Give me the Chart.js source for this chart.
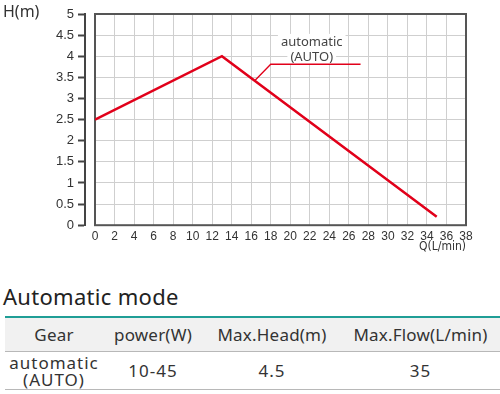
<!DOCTYPE html>
<html>
<head>
<meta charset="utf-8">
<script src="https://cdn.jsdelivr.net/npm/chart.js@4.4.1/dist/chart.umd.min.js"></script>
<style>
  body { margin: 0; background: #fff; width: 500px; height: 394px; overflow: hidden; position: relative; font-family: "Noto Sans", sans-serif; }
  #wrap { position: absolute; left: 0; top: 0; width: 500px; height: 254px; }
  #hlabel { position: absolute; left: 3px; top: 0px; font-size: 16px; color: #333; }
  #title { position: absolute; left: 3px; top: 281px; font-size: 22px; color: #222; letter-spacing: 0.3px; }
  table { position: absolute; left: 5px; top: 316px; width: 495px; border-collapse: collapse; border-top: 2px solid #1f9e96; color: #333; font-size: 17px; }
  th { background: #f1f1f1; font-weight: normal; height: 33px; border-bottom: 1px solid #b8b8b8; padding: 0; letter-spacing: 0.2px; }
  td { text-align: center; height: 37px; border-bottom: 1px solid #b8b8b8; padding: 0; line-height: 17px; letter-spacing: 1px; }
</style>
</head>
<body>
<div id="wrap"><canvas id="myChart"></canvas></div>
<div id="hlabel">H(m)</div>
<div id="title">Automatic mode</div>
<table>
  <tr><th style="width:98px">Gear</th><th style="width:100px">power(W)</th><th style="width:138px">Max.Head(m)</th><th>Max.Flow(L/min)</th></tr>
  <tr><td>automatic<br>(AUTO)</td><td>10-45</td><td>4.5</td><td>35</td></tr>
</table>
<script>
// curve data
var flow = [0, 13, 35]
var head = [2.5, 4.0, 0.2]

// leader line for the label
var leaderQ = [16.4, 18, 27.2]
var leaderH = [3.43, 3.81, 3.81]
var labelQ = 22.2
var labelLines = ["automatic", "(AUTO)"]
var labelH = [4.34, 3.98]

var xMin = 0, xMax = 38, xStep = 2
var yMin = 0, yMax = 5, yStep = 0.5

function pts(xs, ys){
    var out = []
    for (var i = 0; i < xs.length; i++) out.push({x: xs[i], y: ys[i]})
    return out
}

var framePlugin = {
    id: 'frame',
    beforeDatasetsDraw: function(chart){
        var c = chart.ctx, a = chart.chartArea
        c.save()
        c.strokeStyle = '#555'
        c.lineWidth = 2
        c.strokeRect(a.left, a.top, a.right - a.left, a.bottom - a.top)

        // label with white box
        var xs = chart.scales.x, ys = chart.scales.y
        c.font = '13px "Noto Sans"'
        c.textAlign = 'center'
        c.textBaseline = 'middle'
        var cx = xs.getPixelForValue(labelQ)
        for (var i = 0; i < labelLines.length; i++){
            var cy = ys.getPixelForValue(labelH[i])
            var w = c.measureText(labelLines[i]).width
            c.fillStyle = '#fff'
            c.fillRect(cx - w / 2 - 3, cy - 8, w + 6, 16)
        }
        c.fillStyle = '#444'
        for (var j = 0; j < labelLines.length; j++){
            c.fillText(labelLines[j], cx, ys.getPixelForValue(labelH[j]))
        }
        c.restore()
    }
}

var ctx = document.getElementById("myChart").getContext('2d')

var chart = new Chart(ctx, {
    type: 'line',
    data: {
        datasets: [
            {
                data: pts(flow, head),
                borderColor: '#e1001a',
                borderWidth: 2.5,
                pointRadius: 0,
                tension: 0
            },
            {
                data: pts(leaderQ, leaderH),
                borderColor: '#e1001a',
                borderWidth: 1.3,
                pointRadius: 0,
                tension: 0
            }
        ]
    },
    options: {
        responsive: true,
        maintainAspectRatio: false,
        animation: false,
        layout: { padding: { top: 14, right: 34, left: 0, bottom: 0 } },
        plugins: { legend: { display: false }, tooltip: { enabled: false } },
        scales: {
            x: {
                type: 'linear',
                min: xMin, max: xMax,
                ticks: { stepSize: xStep, padding: 4, color: '#333', font: { family: 'Liberation Sans', size: 12 } },
                grid: { color: '#cfcfcf', drawTicks: false },
                border: { display: false },
                title: { display: true, text: 'Q(L/min)', align: 'end', color: '#333', padding: { top: -8, bottom: 0 },
                         font: { family: 'DejaVu Sans Condensed, Liberation Sans', size: 12 } }
            },
            y: {
                type: 'linear',
                position: 'left',
                weight: 0,
                min: yMin, max: yMax,
                ticks: { stepSize: yStep, display: false },
                grid: { color: '#cfcfcf', drawTicks: false },
                border: { display: false },
                afterFit: function(s){ s.width = 10 }
            },
            yL: {
                type: 'linear',
                position: 'left',
                weight: 1,
                min: yMin, max: yMax,
                ticks: { stepSize: yStep, padding: 4, color: '#333', font: { family: 'Liberation Sans', size: 13 },
                         callback: function(v){ return String(v) } },
                grid: { drawOnChartArea: false, tickLength: 7, tickColor: '#444', tickWidth: 2 },
                border: { color: '#444', width: 2 },
                afterFit: function(s){ s.width = 85 }
            }
        }
    },
    plugins: [framePlugin]
})
</script>
</body>
</html>
